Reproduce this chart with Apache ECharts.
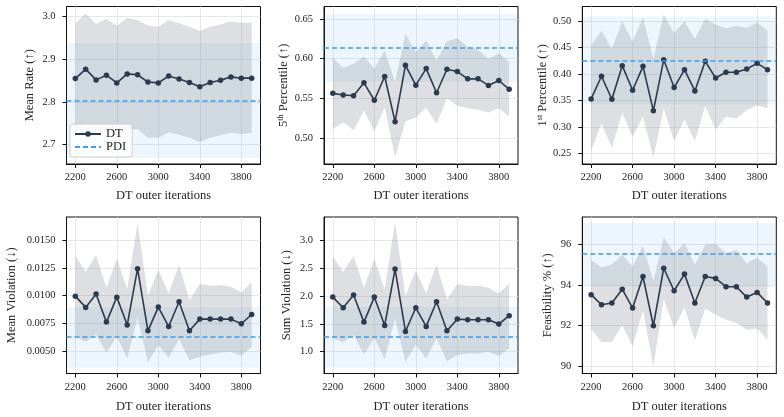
<!DOCTYPE html>
<html><head><meta charset="utf-8">
<script src="https://cdn.jsdelivr.net/npm/echarts@6/dist/echarts.min.js"></script>
<style>html,body{margin:0;padding:0;background:#fff}#c{width:784px;height:417px}</style>
</head><body><div id="c"></div>
<script>
// ---------- data ----------
const iterations = [2200,2300,2400,2500,2600,2700,2800,2900,3000,3100,3200,3300,3400,3500,3600,3700,3800,3900];
const xTicks = [2200,2600,3000,3400,3800];

const meanRate   = [2.854,2.876,2.851,2.862,2.844,2.865,2.863,2.846,2.844,2.860,2.853,2.845,2.835,2.845,2.850,2.858,2.855,2.855];
const meanRateHi = [2.983,3.005,2.981,2.993,2.977,2.995,2.990,2.978,2.975,2.990,2.983,2.975,2.965,2.975,2.980,2.987,2.984,2.984];
const meanRateLo = [2.725,2.747,2.721,2.731,2.711,2.735,2.736,2.716,2.716,2.729,2.723,2.716,2.706,2.716,2.722,2.728,2.725,2.727];
const pdiMeanRate = [2.803, 2.669, 2.937];      // value, band low, band high
const meanRateTicks = [2.7, 2.8, 2.9, 3.0];

const p5   = [0.5566,0.5545,0.5537,0.5698,0.5479,0.5777,0.5211,0.5917,0.5669,0.5876,0.5574,0.5868,0.5839,0.5748,0.5748,0.5665,0.5727,0.5616];
const p5Hi = [0.6012,0.5884,0.5938,0.6029,0.5876,0.6103,0.5711,0.6314,0.6083,0.6227,0.5979,0.6219,0.6256,0.6153,0.6112,0.6000,0.6070,0.5959];
const p5Lo = [0.5120,0.5202,0.5103,0.5347,0.5090,0.5388,0.4769,0.5215,0.5264,0.5388,0.5186,0.5500,0.5409,0.5380,0.5360,0.5326,0.5380,0.5277];
const pdiP5 = [0.6132, 0.5711, 0.6558];
const p5Ticks = [0.50, 0.55, 0.60, 0.65];

const p1   = [0.3528,0.3954,0.3521,0.4154,0.3690,0.4142,0.3302,0.4267,0.3741,0.4079,0.3678,0.4236,0.3922,0.4029,0.4029,0.4091,0.4198,0.4079];
const p1Hi = [0.4536,0.4806,0.4474,0.4994,0.4605,0.5069,0.4286,0.5119,0.4768,0.4994,0.4662,0.5038,0.4931,0.4862,0.4906,0.4868,0.4969,0.4818];
const p1Lo = [0.2550,0.3064,0.2607,0.3264,0.2813,0.3189,0.2425,0.3346,0.2732,0.3139,0.2738,0.3390,0.2951,0.3189,0.3158,0.3315,0.3409,0.3346];
const pdiP1 = [0.4242, 0.3421, 0.5081];
const p1Ticks = [0.25, 0.30, 0.35, 0.40, 0.45, 0.50];

const meanViol   = [0.00995,0.00893,0.01014,0.00760,0.00986,0.00733,0.01243,0.00681,0.00896,0.00720,0.00944,0.00681,0.00787,0.00787,0.00787,0.00787,0.00745,0.00829];
const meanViolHi = [0.01361,0.01216,0.01367,0.01071,0.01331,0.01059,0.01654,0.00998,0.01231,0.01020,0.01276,0.00959,0.01104,0.01089,0.01095,0.01080,0.01029,0.01120];
const meanViolLo = [0.00627,0.00582,0.00651,0.00482,0.00633,0.00431,0.00799,0.00400,0.00551,0.00437,0.00606,0.00415,0.00446,0.00467,0.00485,0.00491,0.00455,0.00536];
const pdiMeanViol = [0.00624, 0.00346, 0.00893];
const meanViolTicks = [0.0050, 0.0075, 0.0100, 0.0125, 0.0150];

const sumViol   = [1.982,1.789,2.018,1.530,1.982,1.470,2.488,1.361,1.789,1.452,1.898,1.373,1.584,1.572,1.572,1.572,1.494,1.645];
const sumViolHi = [2.711,2.440,2.723,2.150,2.669,2.127,3.331,2.006,2.458,2.054,2.572,1.940,2.217,2.181,2.187,2.150,2.048,2.229];
const sumViolLo = [1.247,1.163,1.295,0.946,1.247,0.861,1.596,0.813,1.127,0.873,1.235,0.825,0.934,0.964,0.964,0.994,0.922,1.054];
const pdiSumViol = [1.259, 0.705, 1.807];
const sumViolTicks = [1.0, 1.5, 2.0, 2.5, 3.0];

const feas   = [93.52,93.02,93.11,93.79,92.86,94.41,91.99,94.82,93.71,94.53,93.11,94.41,94.32,93.91,93.91,93.40,93.63,93.11];
const feasHi = [95.23,94.86,95.02,95.48,94.90,95.93,94.20,96.34,95.56,96.05,94.99,95.97,96.03,95.56,95.72,95.07,95.35,94.90];
const feasLo = [91.83,91.19,91.19,92.01,90.98,92.73,90.00,93.30,91.88,92.89,91.26,92.83,92.53,92.29,92.13,91.80,91.85,91.31];
const pdiFeas = [95.51, 93.97, 97.03];
const feasTicks = [90, 92, 94, 96];

// ---------- layout / style ----------
const FONT = 'Liberation Serif';
const DT_COLOR = '#2b3a4e';
const PDI_COLOR = '#3d9df0';
const panels = [
  {name:'Mean Rate (↑)', mean:meanRate, lo:meanRateLo, hi:meanRateHi, pdi:pdiMeanRate, ticks:meanRateTicks, dec:1, min:2.655, max:3.022, left:66.5, top:6.5, h:157.5, gap:30},
  {name:'{b|5}{s|th}{b| Percentile (↑)}', mean:p5, lo:p5Lo, hi:p5Hi, pdi:pdiP5, ticks:p5Ticks, dec:2, min:0.468, max:0.6655, left:324, top:6.5, h:157.5, gap:34},
  {name:'{b|1}{s|st}{b| Percentile (↑)}', mean:p1, lo:p1Lo, hi:p1Hi, pdi:pdiP1, ticks:p1Ticks, dec:2, min:0.230, max:0.527, left:582.3, top:6.5, h:157.5, gap:32},
  {name:'Mean Violation (↓)', mean:meanViol, lo:meanViolLo, hi:meanViolHi, pdi:pdiMeanViol, ticks:meanViolTicks, dec:4, min:0.00295, max:0.01711, left:66.5, top:217, h:156.5, gap:48},
  {name:'Sum Violation (↓)', mean:sumViol, lo:sumViolLo, hi:sumViolHi, pdi:pdiSumViol, ticks:sumViolTicks, dec:1, min:0.602, max:3.428, left:324, top:217, h:156.5, gap:31},
  {name:'Feasibility % (↑)', mean:feas, lo:feasLo, hi:feasHi, pdi:pdiFeas, ticks:feasTicks, dec:0, min:89.64, max:97.34, left:582.3, top:217, h:156.5, gap:28}
];

const grids = [], xAxes = [], yAxes = [], series = [];
panels.forEach((p, i) => {
  grids.push({left:p.left, top:p.top, width:194, height:p.h, show:true, borderColor:'#111', borderWidth:1, backgroundColor:'transparent'});
  xAxes.push({
    type:'value', gridIndex:i, min:2115, max:3985,
    name:'DT outer iterations', nameLocation:'middle', nameGap:(i < 3 ? 25 : 27),
    nameTextStyle:{fontFamily:FONT, fontSize:12.5, color:'#222'},
    axisLine:{show:true, lineStyle:{color:'#111', width:1}},
    axisTick:{show:true, customValues:xTicks, length:4, lineStyle:{color:'#111'}},
    axisLabel:{customValues:xTicks, fontFamily:FONT, fontSize:10.5, color:'#222', margin:8,
      formatter:(v) => String(v)},
    splitLine:{show:true, lineStyle:{color:'#e2e2e2', width:0.8}}
  });
  yAxes.push({
    type:'value', gridIndex:i, min:p.min, max:p.max,
    name:p.name, nameLocation:'middle', nameGap:p.gap,
    nameTextStyle:{fontFamily:FONT, fontSize:12.5, color:'#222',
      rich:{b:{fontFamily:FONT, fontSize:12.5, color:'#222'}, s:{fontFamily:FONT, fontSize:8, color:'#222', verticalAlign:'top'}}},
    axisLine:{show:true, lineStyle:{color:'#111', width:1}},
    axisTick:{show:true, customValues:p.ticks, length:4, lineStyle:{color:'#111'}},
    axisLabel:{customValues:p.ticks, fontFamily:FONT, fontSize:10.5, color:'#222', margin:11,
      formatter:(v) => Number(v).toFixed(p.dec)},
    splitLine:{show:true, lineStyle:{color:'#e2e2e2', width:0.8}}
  });
  // PDI band + line
  series.push({
    type:'line', name:'PDI', xAxisIndex:i, yAxisIndex:i, data:[], symbol:'none',
    lineStyle:{color:PDI_COLOR, type:[5,3], width:1.5}, itemStyle:{color:'rgba(0,0,0,0)'},
    markArea:{silent:true, itemStyle:{color:'rgba(66,150,235,0.09)'}, data:[[{yAxis:p.pdi[1]},{yAxis:p.pdi[2]}]]},
    markLine:{silent:true, symbol:'none', precision:8, label:{show:false}, lineStyle:{color:PDI_COLOR, type:[5,3], width:1.5}, data:[{yAxis:p.pdi[0]}]},
    z:3
  });
  // DT band
  series.push({
    type:'custom', name:'DT band', xAxisIndex:i, yAxisIndex:i,
    data: iterations.map((x, j) => [x, p.lo[j], p.hi[j]]),
    encode:{x:0, y:[1,2]},
    renderItem:(params, api) => {
      if (params.dataIndex !== 0) return null;
      const pts = [];
      iterations.forEach((x, j) => pts.push(api.coord([x, p.hi[j]])));
      for (let j = iterations.length - 1; j >= 0; j--) pts.push(api.coord([iterations[j], p.lo[j]]));
      return {type:'polygon', shape:{points:pts}, style:{fill:'rgba(118,128,140,0.25)'}};
    },
    silent:true, z:2
  });
  // DT line
  series.push({
    type:'line', name:'DT', xAxisIndex:i, yAxisIndex:i,
    data: iterations.map((x, j) => [x, p.mean[j]]),
    symbol:'circle', symbolSize:5.5, showAllSymbol:true,
    lineStyle:{color:DT_COLOR, width:1.6}, itemStyle:{color:DT_COLOR},
    z:4
  });
});

const chart = echarts.init(document.getElementById('c'), null, {renderer:'canvas'});
chart.setOption({
  animation:false,
  backgroundColor:'#fff',
  grid:grids, xAxis:xAxes, yAxis:yAxes, series:series,
  legend:{
    data:['DT','PDI'], orient:'vertical', left:70, top:124,
    itemWidth:26, itemHeight:7, itemGap:0,
    textStyle:{fontFamily:FONT, fontSize:12.5, color:'#222', lineHeight:12.7},
    backgroundColor:'rgba(255,255,255,0.85)', borderColor:'#cfcfcf', borderWidth:1, borderRadius:3,
    padding:[3.5,6,3.5,4]
  }
});
</script></body></html>
